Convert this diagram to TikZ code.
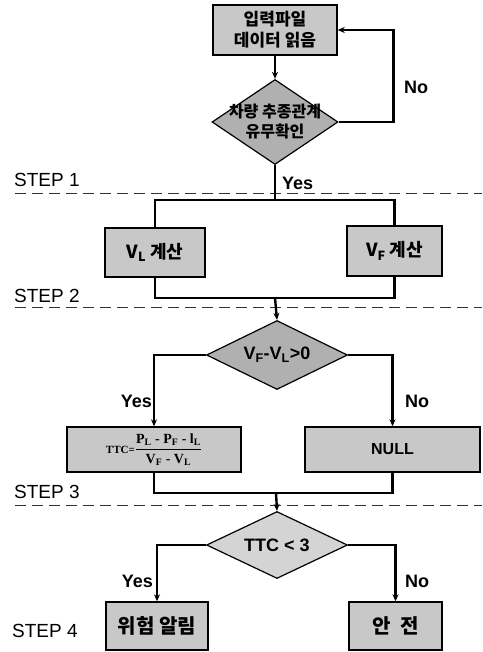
\documentclass[tikz,border=0pt]{standalone}
\usepackage{fontspec}
\setmainfont{Liberation Sans}
\newfontfamily\kr{Noto Sans CJK KR}
\newfontfamily\serifb{Liberation Serif}
\usetikzlibrary{shapes.geometric,arrows.meta}
\definecolor{boxgray}{HTML}{C8C8C8}
\definecolor{diagray}{HTML}{B0B0B0}
\definecolor{dialight}{HTML}{D4D4D4}
\newcommand{\ttcformula}{\serifb\bfseries\fontsize{14}{16}\selectfont{\fontsize{11}{13}\selectfont TTC=}$\displaystyle\frac{\hbox{P\textsubscript{L} - P\textsubscript{F} - l\textsubscript{L}}}{\hbox{V\textsubscript{F} - V\textsubscript{L}}}$}
\tikzset{
  box/.style={draw=black, line width=1.4pt, fill=boxgray, rectangle, inner sep=0pt,
    font=\kr\bfseries\fontsize{17}{21}\selectfont, align=center},
  dia/.style={draw=black, line width=1.2pt, fill=diagray, diamond, inner sep=0pt},
  conn/.style={line width=2.4pt, black},
  arr/.style={conn, -{Stealth[length=7pt,width=6pt]}},
  lab/.style={font=\bfseries\fontsize{18}{21}\selectfont, inner sep=0pt},
  steplab/.style={font=\fontsize{19}{22}\selectfont, inner sep=0pt, anchor=west},
  sepline/.style={line width=0.9pt, dash pattern=on 11pt off 6pt, black!80}
}
\begin{document}
\begin{tikzpicture}[x=1pt,y=-1pt]
\useasboundingbox (0,0) rectangle (482,652);
% nodes
\node[box, minimum width=124pt, minimum height=50pt] (b1) at (275,30) {입력파일\\데이터 읽음};
\node[dia, minimum width=126pt, minimum height=85pt, label={[font=\kr\bfseries\fontsize{16}{20}\selectfont, align=center]center:차량 추종관계\\유무확인}] (d1) at (275,122) {};
\node[box, minimum width=100pt, minimum height=49pt, font=\kr\bfseries\fontsize{18}{21}\selectfont] (vl) at (155,252.5) {V\textsubscript{L} 계산};
\node[box, minimum width=95pt, minimum height=50pt, font=\kr\bfseries\fontsize{18}{21}\selectfont] (vf) at (394.5,251) {V\textsubscript{F} 계산};
\node[dia, minimum width=141pt, minimum height=69pt, label={[font=\bfseries\fontsize{18}{21}\selectfont]center:V\textsubscript{F}-V\textsubscript{L}>0}] (d2) at (277,355) {};
\node[box, minimum width=174pt, minimum height=45pt] (ttc) at (154,449.5) {\ttcformula};
\node[box, minimum width=175pt, minimum height=45pt, font=\bfseries\fontsize{16}{19}\selectfont] (null) at (392.5,449.5) {NULL};
\node[dia, fill=dialight, minimum width=141pt, minimum height=67pt, label={[font=\bfseries\fontsize{18}{21}\selectfont]center:TTC < 3}] (d3) at (277,545) {};
\node[box, minimum width=102pt, minimum height=48pt, font=\kr\bfseries\fontsize{20}{24}\selectfont] (warn) at (157,626) {위험 알림};
\node[box, minimum width=93pt, minimum height=48pt, font=\kr\bfseries\fontsize{20}{24}\selectfont] (safe) at (395.5,626) {안\hspace{0.5em}전};
% step labels and separators
\node[steplab] (s1) at (14,180) {STEP 1};
\node[steplab] (s2) at (14,296) {STEP 2};
\node[steplab] (s3) at (14,492) {STEP 3};
\node[steplab] (s4) at (12,631) {STEP 4};
\coordinate (l1a) at (15,193); \coordinate (l1b) at (482,193);
\coordinate (l2a) at (15,307); \coordinate (l2b) at (482,307);
\coordinate (l3a) at (15,505); \coordinate (l3b) at (482,505);
\draw[sepline] (l1a) -- (l1b);
\draw[sepline] (l2a) -- (l2b);
\draw[sepline] (l3a) -- (l3b);
% connectors
\draw[arr] (b1.south -| d1.north) -- (d1.north);
\draw[arr] (d1.east) -- ++(55,0) |- (b1.east);
\node[lab, anchor=west] (no1) at (404,87) {No};
% split 1
\coordinate (j1) at (275,200);
\draw[conn] (d1.south) -- (j1);
\draw[conn] (vl.north) |- (j1) -| (vf.north);
\node[lab, anchor=west] (yes1) at (282,183) {Yes};
\coordinate (j2) at (275,298);
\draw[conn] (vl.south) |- (j2) -| (vf.south);
\draw[arr] (j2) -- (d2.north);
% decision 2
\draw[arr] (d2.west) -| (ttc.north);
\draw[arr] (d2.east) -| (null.north);
\node[lab, anchor=east] (yes2) at (152,401) {Yes};
\node[lab, anchor=west] (no2) at (405,401) {No};
\coordinate (j3) at (276,493);
\draw[conn] (ttc.south) |- (j3) -| (null.south);
\draw[arr] (j3) -- (d3.north);
% decision 3
\draw[arr] (d3.west) -| (warn.north);
\draw[arr] (d3.east) -| (safe.north);
\node[lab, anchor=east] (yes3) at (153,581) {Yes};
\node[lab, anchor=west] (no3) at (405,581) {No};
\end{tikzpicture}
\end{document}
